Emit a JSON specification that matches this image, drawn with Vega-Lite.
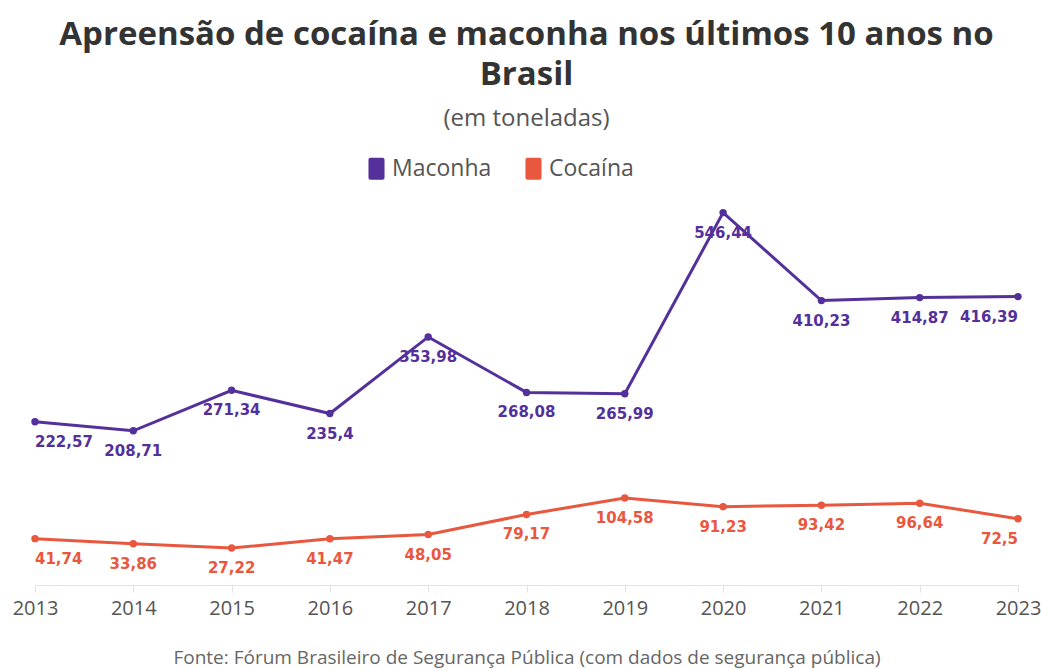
{
  "$schema": "https://vega.github.io/schema/vega-lite/v6.json",
  "width": 983,
  "height": 407,
  "autosize": {"type": "none"},
  "padding": {"left": 35, "top": 178, "right": 23, "bottom": 84},
  "background": "white",
  "config": {
    "view": {"stroke": null},
    "locale": {"number": {"decimal": ",", "thousands": ".", "grouping": [3], "currency": ["R$", ""]}}
  },
  "title": {
    "text": ["Apreensão de cocaína e maconha nos últimos 10 anos no", "Brasil"],
    "subtitle": "(em toneladas)",
    "anchor": "middle",
    "frame": "group",
    "font": "Open Sans",
    "fontSize": 33,
    "fontWeight": "bold",
    "color": "#333333",
    "lineHeight": 40,
    "subtitleFont": "Open Sans",
    "subtitleFontSize": 24,
    "subtitleColor": "#555555",
    "subtitlePadding": 15,
    "offset": 26
  },
  "data": {
    "values": [
      {"ano": 2013, "tipo": "Maconha", "valor": 222.57},
      {"ano": 2014, "tipo": "Maconha", "valor": 208.71},
      {"ano": 2015, "tipo": "Maconha", "valor": 271.34},
      {"ano": 2016, "tipo": "Maconha", "valor": 235.4},
      {"ano": 2017, "tipo": "Maconha", "valor": 353.98},
      {"ano": 2018, "tipo": "Maconha", "valor": 268.08},
      {"ano": 2019, "tipo": "Maconha", "valor": 265.99},
      {"ano": 2020, "tipo": "Maconha", "valor": 546.44},
      {"ano": 2021, "tipo": "Maconha", "valor": 410.23},
      {"ano": 2022, "tipo": "Maconha", "valor": 414.87},
      {"ano": 2023, "tipo": "Maconha", "valor": 416.39},
      {"ano": 2013, "tipo": "Cocaína", "valor": 41.74},
      {"ano": 2014, "tipo": "Cocaína", "valor": 33.86},
      {"ano": 2015, "tipo": "Cocaína", "valor": 27.22},
      {"ano": 2016, "tipo": "Cocaína", "valor": 41.47},
      {"ano": 2017, "tipo": "Cocaína", "valor": 48.05},
      {"ano": 2018, "tipo": "Cocaína", "valor": 79.17},
      {"ano": 2019, "tipo": "Cocaína", "valor": 104.58},
      {"ano": 2020, "tipo": "Cocaína", "valor": 91.23},
      {"ano": 2021, "tipo": "Cocaína", "valor": 93.42},
      {"ano": 2022, "tipo": "Cocaína", "valor": 96.64},
      {"ano": 2023, "tipo": "Cocaína", "valor": 72.5}
    ]
  },
  "encoding": {
    "x": {
      "field": "ano",
      "type": "quantitative",
      "scale": {"domain": [2013, 2023], "nice": false, "zero": false},
      "axis": {
        "format": "d",
        "values": [2013, 2014, 2015, 2016, 2017, 2018, 2019, 2020, 2021, 2022, 2023],
        "grid": false,
        "domainColor": "#e3e3e3",
        "tickColor": "#e3e3e3",
        "tickSize": 7,
        "labelFont": "Open Sans",
        "labelFontSize": 20,
        "labelColor": "#555555",
        "labelPadding": 6,
        "labelOverlap": false,
        "labelFlush": false,
        "title": "Fonte: Fórum Brasileiro de Segurança Pública (com dados de segurança pública)",
        "titleFont": "Open Sans",
        "titleFontSize": 19,
        "titleFontWeight": "normal",
        "titleColor": "#666666",
        "titlePadding": 30
      }
    },
    "y": {
      "field": "valor",
      "type": "quantitative",
      "scale": {"domain": [-30, 600], "nice": false, "zero": false},
      "axis": null
    },
    "color": {
      "field": "tipo",
      "type": "nominal",
      "scale": {"domain": ["Maconha", "Cocaína"], "range": ["#53309a", "#e9573e"]},
      "legend": {
        "title": null,
        "orient": "none",
        "direction": "horizontal",
        "legendX": 330,
        "legendY": -21,
        "labelFont": "Open Sans",
        "labelFontSize": 23,
        "labelColor": "#555555",
        "symbolType": "M-0.55,-1 H0.55 Q0.73,-1 0.73,-0.82 V0.82 Q0.73,1 0.55,1 H-0.55 Q-0.73,1 -0.73,0.82 V-0.82 Q-0.73,-1 -0.55,-1 Z",
        "symbolSize": 484,
        "symbolStrokeWidth": 0,
        "symbolOpacity": 1,
        "labelOffset": 4,
        "columnPadding": 30
      }
    }
  },
  "layer": [
    {"mark": {"type": "line", "strokeWidth": 3}},
    {"mark": {"type": "point", "filled": true, "size": 55, "opacity": 1}},
    {
      "transform": [{"filter": "datum.ano > 2013 && datum.ano < 2023"}],
      "mark": {"type": "text", "font": "DejaVu Sans", "fontWeight": "bold", "fontSize": 15, "baseline": "middle", "align": "center", "dy": 20},
      "encoding": {"text": {"field": "valor", "type": "quantitative", "format": ".2~f"}}
    },
    {
      "transform": [{"filter": "datum.ano == 2013"}],
      "mark": {"type": "text", "font": "DejaVu Sans", "fontWeight": "bold", "fontSize": 15, "baseline": "middle", "align": "left", "dy": 20},
      "encoding": {"text": {"field": "valor", "type": "quantitative", "format": ".2~f"}}
    },
    {
      "transform": [{"filter": "datum.ano == 2023"}],
      "mark": {"type": "text", "font": "DejaVu Sans", "fontWeight": "bold", "fontSize": 15, "baseline": "middle", "align": "right", "dy": 20},
      "encoding": {"text": {"field": "valor", "type": "quantitative", "format": ".2~f"}}
    }
  ]
}
